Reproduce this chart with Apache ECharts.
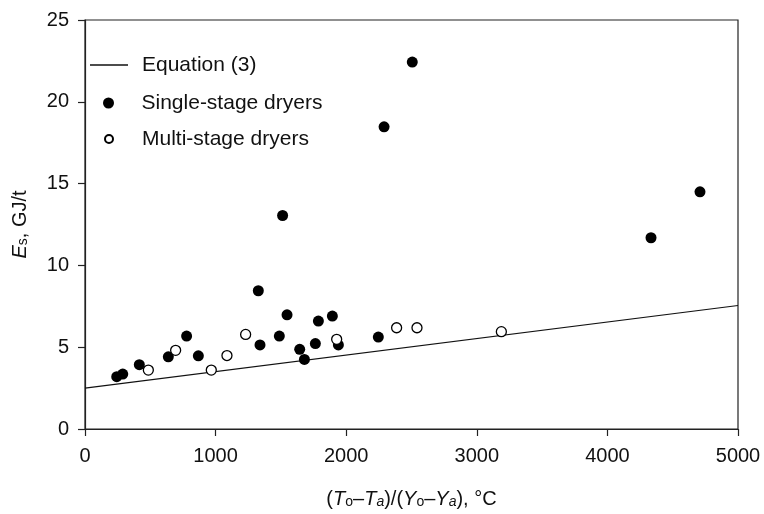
<!DOCTYPE html>
<html><head><meta charset="utf-8">
<script src="https://cdn.jsdelivr.net/npm/echarts@6/dist/echarts.min.js"></script>
<style>html,body{margin:0;padding:0;background:#fff}#c{width:764px;height:514px}</style>
</head><body><div id="c"></div>
<script>
const singleX = [243, 289, 416, 638, 778, 868, 1327, 1340, 1488, 1513, 1547, 1644, 1680, 1764, 1787, 1894, 1940, 2246, 2290, 2506, 4334, 4709];
const singleY = [3.2, 3.36, 3.93, 4.41, 5.68, 4.47, 8.45, 5.14, 5.68, 13.05, 6.98, 4.87, 4.25, 5.22, 6.6, 6.9, 5.14, 5.62, 18.47, 22.43, 11.69, 14.5];
const multiX = [485, 694, 967, 1087, 1230, 1927, 2386, 2542, 3188];
const multiY = [3.6, 4.81, 3.6, 4.49, 5.78, 5.48, 6.19, 6.19, 5.95];
const eqX = [0, 5000];
const eqY = [2.5, 7.55];
const xTicks = [0, 1000, 2000, 3000, 4000, 5000];
const yTicks = [0, 5, 10, 15, 20, 25];
const seriesNames = ['Equation (3)', 'Single-stage dryers', 'Multi-stage dryers'];

const FONT = '"Liberation Sans", Arial, Helvetica, sans-serif';
const zip = (a, b) => a.map((v, i) => [v, b[i]]);
const chart = echarts.init(document.getElementById('c'), null, {renderer: 'canvas'});
const axisCommon = {
  axisLine: {show: true, lineStyle: {color: '#222', width: 1.2}},
  axisTick: {show: true, inside: false, length: 7, lineStyle: {color: '#222', width: 1.2}},
  splitLine: {show: false},
  axisLabel: {color: '#111', fontSize: 20, fontFamily: FONT, formatter: v => String(v)}
};
const nameRich = {
  n: {fontSize: 20, fontFamily: FONT, color: '#111', lineHeight: 26, verticalAlign: 'bottom'},
  i: {fontSize: 20, fontFamily: FONT, color: '#111', fontStyle: 'italic', lineHeight: 26, verticalAlign: 'bottom'},
  s: {fontSize: 14, fontFamily: FONT, color: '#111', lineHeight: 10, verticalAlign: 'bottom'},
  si: {fontSize: 14, fontFamily: FONT, color: '#111', fontStyle: 'italic', lineHeight: 10, verticalAlign: 'bottom'}
};
const legendText = {fontSize: 21, fontFamily: FONT, color: '#111', lineHeight: 24, padding: [0, 0, 0, 9]};
chart.setOption({
  animation: false,
  backgroundColor: '#fff',
  grid: {left: 85, right: 26, top: 20, bottom: 82, show: true, borderColor: '#222', borderWidth: 1.2, backgroundColor: 'transparent'},
  legend: [
    {left: 85, top: 48, itemWidth: 38, itemHeight: 1.4, textStyle: legendText,
     data: [{name: seriesNames[0], icon: 'rect', itemStyle: {color: '#111'}}]},
    {left: 98, top: 86, itemWidth: 38, itemHeight: 11, textStyle: legendText,
     data: [{name: seriesNames[1], icon: 'circle'}]},
    {left: 99, top: 122, itemWidth: 38, itemHeight: 8, textStyle: legendText,
     data: [{name: seriesNames[2], icon: 'circle'}]}
  ],
  xAxis: Object.assign({}, axisCommon, {
    type: 'value', min: xTicks[0], max: xTicks[xTicks.length-1], interval: 1000,
    axisLabel: Object.assign({}, axisCommon.axisLabel, {margin: 17}),
    name: '{n|(}{i|T}{s|o}{n|–}{i|T}{si|a}{n|)/(}{i|Y}{s|o}{n|–}{i|Y}{si|a}{n|), °C}',
    nameLocation: 'middle', nameGap: 54,
    nameTextStyle: {rich: nameRich}
  }),
  yAxis: Object.assign({}, axisCommon, {
    type: 'value', min: yTicks[0], max: yTicks[yTicks.length-1], interval: 5,
    axisLabel: Object.assign({}, axisCommon.axisLabel, {margin: 16}),
    name: '{i|E}{s|s}{n|, GJ/t}',
    nameLocation: 'middle', nameGap: 55,
    nameTextStyle: {rich: nameRich}
  }),
  series: [
    {name: seriesNames[0], type: 'line', data: zip(eqX, eqY), symbol: 'none',
     lineStyle: {color: '#111', width: 1.2}, itemStyle: {color: '#111'}, z: 1},
    {name: seriesNames[1], type: 'scatter', data: zip(singleX, singleY), symbol: 'circle', symbolSize: 11,
     itemStyle: {color: '#000', borderColor: '#000', borderWidth: 0, opacity: 1}, z: 3},
    {name: seriesNames[2], type: 'scatter', data: zip(multiX, multiY), symbol: 'circle', symbolSize: 10,
     itemStyle: {color: '#fff', borderColor: '#000', borderWidth: 1.3, opacity: 1}, z: 4}
  ]
});
</script></body></html>
